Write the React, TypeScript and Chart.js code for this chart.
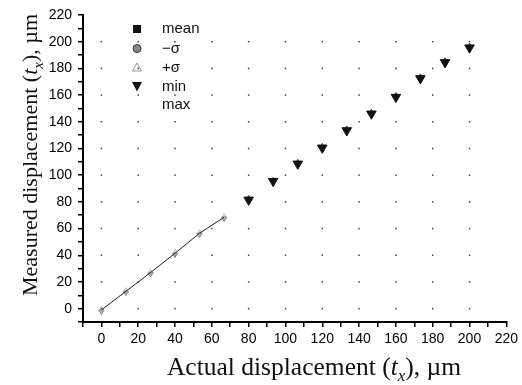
import React, { useEffect, useRef } from "react";
import { Chart, registerables } from "chart.js";

Chart.register(...registerables);

// ---- data ----
const actual = [0, 13.3, 26.7, 40, 53.3, 66.7, 80, 93.3, 106.7, 120, 133.3, 146.7, 160, 173.3, 186.7, 200];
const meanVals = [-1, 13, 27, 41.5, 56.5, 68.5, 82.5, 96, 109.5, 121.5, 134.5, 147, 159.5, 173.5, 185.5, 196.5];
const minusSigma = [-1.5, 12.5, 26.5, 41, 56, 68, 82, 95.5, 109, 121, 134, 146.5, 159, 173, 185, 196];
const plusSigma = [-0.5, 13.5, 27.5, 42, 57, 69, 83, 96.5, 110, 122, 135, 147.5, 160, 174, 186, 197];
const minVals = [-2, 12, 26, 40.5, 55.5, 67.5, 81.5, 95.5, 108.5, 120.5, 133.5, 146, 158.5, 172.5, 184.5, 195.5];
const maxVals = [0, 14, 28, 42.5, 57.5, 69.5, 83.5, 97, 110.5, 122.5, 135.5, 148, 160.5, 174.5, 186.5, 197.5];
const legendLabels = ["mean", "\u2212\u03c3", "+\u03c3", "min", "max"];
const xTitle = ["Actual displacement (", "t", "x", "), \u00b5m"];
const yTitle = ["Measured displacement (", "t", "x", "), \u00b5m"];

const pts = (ys: number[]) => actual.map((x, i) => ({ x, y: ys[i] }));

const SANS = "'Liberation Sans', Arial, sans-serif";
const SERIF = "'Liberation Serif', 'Times New Roman', serif";

function drawTitle(ctx: CanvasRenderingContext2D, parts: string[], size: number) {
  const subSize = Math.round(size * 0.68);
  const fonts = [
    `${size}px ${SERIF}`,
    `italic ${size}px ${SERIF}`,
    `italic ${subSize}px ${SERIF}`,
    `${size}px ${SERIF}`,
  ];
  const dys = [0, 0, size * 0.25, 0];
  let total = 0;
  const widths = parts.map((p, i) => {
    ctx.font = fonts[i];
    const w = ctx.measureText(p).width;
    total += w;
    return w;
  });
  let x = -total / 2;
  ctx.textBaseline = "alphabetic";
  ctx.textAlign = "left";
  ctx.fillStyle = "#111";
  parts.forEach((p, i) => {
    ctx.font = fonts[i];
    ctx.fillText(p, x, dys[i]);
    x += widths[i];
  });
}

const decorPlugin = {
  id: "decor",
  beforeDatasetsDraw(chart: any) {
    const { ctx, scales } = chart;
    const xs = scales.x, ys = scales.y;
    ctx.save();
    ctx.fillStyle = "#444";
    xs.ticks.forEach((tx: any) => {
      if (tx.value < 0 || tx.value > 200 || tx.value % 20 !== 0) return;
      ys.ticks.forEach((ty: any) => {
        if (ty.value < 0 || ty.value > 200 || ty.value % 20 !== 0) return;
        const px = xs.getPixelForValue(tx.value);
        const py = ys.getPixelForValue(ty.value);
        ctx.fillRect(px - 0.75, py - 0.75, 1.5, 1.5);
      });
    });
    ctx.restore();
  },
  afterDraw(chart: any) {
    const { ctx, chartArea } = chart;
    ctx.save();
    // legend
    const lx = chartArea.left + 54;
    const tx = chartArea.left + 79;
    const rowY = [29, 48.5, 67.5, 86.5, 104.5];
    ctx.font = `15px ${SANS}`;
    ctx.textBaseline = "middle";
    ctx.textAlign = "left";
    legendLabels.forEach((lab, i) => {
      const y = rowY[i];
      ctx.fillStyle = "#111";
      ctx.fillText(lab, tx, y);
      if (i === 0) {
        ctx.fillStyle = "#111";
        ctx.fillRect(lx - 4, y - 4, 8, 8);
      } else if (i === 1) {
        ctx.beginPath();
        ctx.arc(lx, y, 4, 0, Math.PI * 2);
        ctx.fillStyle = "#888";
        ctx.fill();
        ctx.strokeStyle = "#333";
        ctx.lineWidth = 1;
        ctx.stroke();
      } else if (i === 2) {
        ctx.beginPath();
        ctx.moveTo(lx, y - 4.5);
        ctx.lineTo(lx + 4.5, y + 3.5);
        ctx.lineTo(lx - 4.5, y + 3.5);
        ctx.closePath();
        ctx.strokeStyle = "#999";
        ctx.lineWidth = 1;
        ctx.stroke();
      } else if (i === 3) {
        ctx.beginPath();
        ctx.moveTo(lx - 5, y - 4.5);
        ctx.lineTo(lx + 5, y - 4.5);
        ctx.lineTo(lx, y + 5);
        ctx.closePath();
        ctx.fillStyle = "#111";
        ctx.fill();
      }
    });
    // axis titles
    ctx.save();
    ctx.translate(314, 375);
    drawTitle(ctx, xTitle, 25.5);
    ctx.restore();
    ctx.save();
    ctx.translate(37, 155);
    ctx.rotate(-Math.PI / 2);
    drawTitle(ctx, yTitle, 22);
    ctx.restore();
    ctx.restore();
  },
};

export default function App() {
  const ref = useRef<HTMLCanvasElement | null>(null);
  useEffect(() => {
    if (!ref.current) return;
    const early = (c: any) => c.dataIndex < 6;
    const chart = new Chart(ref.current, {
      type: "scatter",
      data: {
        datasets: [
          {
            label: "mean",
            data: pts(meanVals),
            showLine: true,
            borderColor: "#222",
            borderWidth: 1,
            pointRadius: 0,
            segment: {
              borderColor: (c: any) => (c.p1DataIndex <= 5 ? "#222" : "rgba(0,0,0,0)"),
            },
          },
          {
            label: "-sigma",
            data: pts(minusSigma),
            pointStyle: "circle",
            pointRadius: (c: any) => (early(c) ? 1.5 : 2),
            backgroundColor: (c: any) => (early(c) ? "#bbb" : "#111"),
            borderColor: (c: any) => (early(c) ? "#999" : "#111"),
            borderWidth: 0.8,
          },
          {
            label: "+sigma",
            data: pts(plusSigma),
            pointStyle: "triangle",
            pointRadius: (c: any) => (early(c) ? 3 : 2.5),
            backgroundColor: "rgba(255,255,255,0)",
            borderColor: (c: any) => (early(c) ? "#aaa" : "#111"),
            borderWidth: 0.8,
          },
          {
            label: "max",
            data: pts(maxVals),
            pointRadius: 0,
            borderColor: "#fff",
          },
          {
            label: "min",
            data: pts(minVals),
            pointStyle: "triangle",
            rotation: 180,
            pointRadius: (c: any) => (early(c) ? 3 : 5.5),
            backgroundColor: (c: any) => (early(c) ? "rgba(255,255,255,0)" : "#111"),
            borderColor: (c: any) => (early(c) ? "#777" : "#111"),
            borderWidth: 1,
          },
        ],
      },
      options: {
        animation: false,
        responsive: false,
        events: [],
        layout: { padding: { left: 0, top: 15, right: 15, bottom: 0 } },
        plugins: { legend: { display: false }, tooltip: { enabled: false } },
        scales: {
          x: {
            type: "linear",
            min: -10,
            max: 220,
            afterFit: (s: any) => {
              s.height = 63;
            },
            border: { display: true, color: "#000", width: 2 },
            grid: {
              drawOnChartArea: false,
              drawTicks: true,
              tickLength: 5,
              color: "#000",
              lineWidth: 1.5,
            },
            ticks: {
              stepSize: 10,
              padding: 4,
              color: "#000",
              maxRotation: 0,
              autoSkip: false,
              font: { family: SANS, size: 14 },
              callback: (v: any) => (v >= 0 && v % 20 === 0 ? String(v) : ""),
            },
          },
          y: {
            type: "linear",
            min: -10,
            max: 220,
            afterFit: (s: any) => {
              s.width = 83;
            },
            border: { display: true, color: "#000", width: 2 },
            grid: {
              drawOnChartArea: false,
              drawTicks: true,
              tickLength: 5,
              color: "#000",
              lineWidth: 1.5,
            },
            ticks: {
              stepSize: 10,
              padding: 6,
              color: "#000",
              autoSkip: false,
              font: { family: SANS, size: 14 },
              callback: (v: any) => (v >= 0 && v % 20 === 0 ? String(v) : ""),
            },
          },
        },
      },
      plugins: [decorPlugin],
    });
    return () => chart.destroy();
  }, []);
  return (
    <div style={{ position: "fixed", left: 0, top: 0, width: 522, height: 385, background: "#fff" }}>
      <canvas ref={ref} width={522} height={385} style={{ display: "block" }} />
    </div>
  );
}
